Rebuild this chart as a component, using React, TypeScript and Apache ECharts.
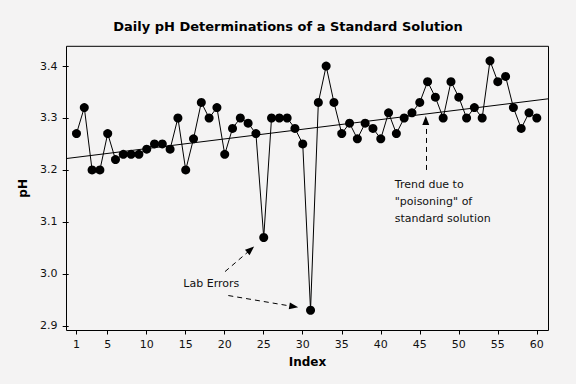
import React, { useEffect, useRef } from "react";
import * as echarts from "echarts";

// pH readings for index 1..60
const phValues: number[] = [
  3.27, 3.32, 3.2, 3.2, 3.27, 3.22, 3.23, 3.23, 3.23, 3.24,
  3.25, 3.25, 3.24, 3.3, 3.2, 3.26, 3.33, 3.3, 3.32, 3.23,
  3.28, 3.3, 3.29, 3.27, 3.07, 3.3, 3.3, 3.3, 3.28, 3.25,
  2.93, 3.33, 3.4, 3.33, 3.27, 3.29, 3.26, 3.29, 3.28, 3.26,
  3.31, 3.27, 3.3, 3.31, 3.33, 3.37, 3.34, 3.3, 3.37, 3.34,
  3.3, 3.32, 3.3, 3.41, 3.37, 3.38, 3.32, 3.28, 3.31, 3.3,
];
const xTickValues: number[] = [1, 5, 10, 15, 20, 25, 30, 35, 40, 45, 50, 55, 60];
const yTickValues: number[] = [2.9, 3.0, 3.1, 3.2, 3.3, 3.4];
const trendX: number[] = [-0.28, 61.5];
const trendY: number[] = [3.222, 3.337];

const TITLE = "Daily pH Determinations of a Standard Solution";
const LAB_TEXT = "Lab Errors";
const TREND_TEXT = 'Trend due to\n"poisoning" of\nstandard solution';

// annotation anchors in data coordinates
const labTextAt: [number, number] = [14.7, 2.982];
const trendTextAt: [number, number] = [41.8, 3.1385];
const labArrows: [number, number][][] = [
  [[20.04, 3.0044], [23.33, 3.0468]],
  [[20.46, 2.9583], [28.85, 2.937]],
];
const trendArrow: [number, number][] = [[45.77, 3.2], [45.77, 3.295]];

const FONT = "DejaVu Sans";

export default function App() {
  const ref = useRef<HTMLDivElement>(null);
  useEffect(() => {
    document.body.style.margin = "0";
    const chart = echarts.init(ref.current!, undefined, { renderer: "svg" });
    const arrowLines = [...labArrows, trendArrow].map((a) => [
      { coord: a[0] },
      { coord: a[1] },
    ]);
    chart.setOption({
      animation: false,
      backgroundColor: "#f4f3f3",
      title: {
        text: TITLE,
        left: "center",
        top: 20,
        padding: 0,
        textStyle: { fontFamily: FONT, fontWeight: "bold", fontSize: 13, color: "#000" },
      },
      grid: {
        left: 66.5,
        right: 27.5,
        top: 46.3,
        bottom: 53.5,
        show: true,
        borderColor: "#000",
        borderWidth: 1,
        backgroundColor: "transparent",
      },
      xAxis: {
        type: "value",
        min: trendX[0],
        max: trendX[1],
        name: "Index",
        nameLocation: "middle",
        nameGap: 25,
        nameTextStyle: { fontFamily: FONT, fontWeight: "bold", fontSize: 12, color: "#000" },
        axisLine: { show: false },
        axisTick: { show: true, length: 4, customValues: xTickValues, lineStyle: { color: "#000" } },
        axisLabel: {
          customValues: xTickValues,
          fontFamily: FONT,
          fontSize: 11,
          color: "#111",
          margin: 8,
        },
        splitLine: { show: false },
      },
      yAxis: {
        type: "value",
        min: 2.891,
        max: 3.438,
        name: "pH",
        nameLocation: "middle",
        nameGap: 34,
        nameTextStyle: { fontFamily: FONT, fontWeight: "bold", fontSize: 12, color: "#000" },
        axisLine: { show: false },
        axisTick: { show: true, length: 6, customValues: yTickValues, lineStyle: { color: "#000" } },
        axisLabel: {
          customValues: yTickValues,
          formatter: (v: number) => v.toFixed(1),
          fontFamily: FONT,
          fontSize: 11,
          color: "#111",
          margin: 9,
        },
        splitLine: { show: false },
      },
      series: [
        {
          type: "line",
          data: trendX.map((x, i) => [x, trendY[i]]),
          showSymbol: false,
          symbol: "none",
          lineStyle: { color: "#000", width: 1 },
          silent: true,
          z: 1,
          markLine: {
            silent: true,
            symbol: ["none", "triangle"],
            symbolSize: [7, 9],
            label: { show: false },
            lineStyle: { color: "#000", width: 1, type: [5, 4] },
            emphasis: { disabled: true },
            data: arrowLines,
          },
        },
        {
          type: "line",
          data: phValues.map((v, i) => [i + 1, v]),
          symbol: "circle",
          symbolSize: 9,
          showSymbol: true,
          lineStyle: { color: "#000", width: 1 },
          itemStyle: { color: "#000" },
          z: 3,
        },
      ],
    });
    const p = (c: [number, number]) => chart.convertToPixel({ gridIndex: 0 }, c) as number[];
    const lt = p(labTextAt);
    const tt = p(trendTextAt);
    chart.setOption({
      graphic: [
        {
          type: "text",
          x: lt[0],
          y: lt[1],
          style: {
            text: LAB_TEXT,
            fontFamily: FONT,
            fontSize: 11,
            fill: "#111",
            textAlign: "left",
            textVerticalAlign: "middle",
          },
        },
        {
          type: "text",
          x: tt[0],
          y: tt[1],
          style: {
            text: TREND_TEXT,
            fontFamily: FONT,
            fontSize: 11,
            lineHeight: 17,
            fill: "#111",
            textAlign: "left",
            textVerticalAlign: "middle",
          },
        },
      ],
    });
    return () => chart.dispose();
  }, []);
  return <div ref={ref} style={{ width: 576, height: 384 }} />;
}
